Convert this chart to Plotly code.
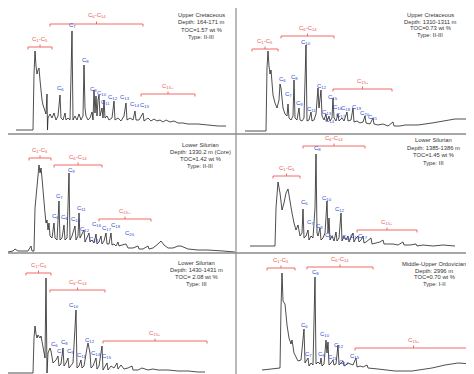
import plotly.graph_objects as go

# ---------------- data (x = retention position, y = detector signal) ----------------
A_trace = [(8,4),(25,4),(26,60),(27,83),(28,68),(29,60),(30,64),(31,66),(32,54),(33,41),(34,34),(35,29),(36,26),
           (37,22),(38,20),(39,40),(39.5,4),(40,16),(42,20),(44,16),(46,21),(48,14),(50,18),(52,39),(53,16),(55,14),
           (57,21),(58,14),(60,16),(62,14),(64,103),(65,14),(67,18),(69,14),(71,20),(73,14),(75,18),(76,69),(77,26),
           (78,18),(80,14),(82,16),(84,22),(85,14),(86,44),(87,21),(88,38),(89,18),(90,34),(91,39),(92,18),(94,26),
           (95,16),(96,34),(97,16),(99,18),(101,14),(104,16),(106,33),(107,14),(110,16),(113,13),(116,18),(118,31),
           (119,14),(122,16),(125,14),(127,23),(128,14),(131,14),(135,21),(136,13),(140,16),(143,13),(146,15),(149,13),
           (152,14),(155,12),(158,14),(162,12),(166,13),(170,11),(175,11),(180,10),(190,10),(200,9),(210,8),(218,8)]
B_trace = [(7,3),(28,3),(29,66),(30,83),(31,68),(32,60),(33,64),(34,51),(35,39),(37,31),(39,26),(41,34),(42,50),(43,46),
           (45,26),(47,20),(49,18),(50,30),(51,16),(53,14),(55,18),(56,54),(57,16),(59,14),(61,26),(62,14),(64,13),
           (66,16),(68,89),(69,13),(71,14),(73,22),(74,13),(76,14),(78,20),(80,46),(81,26),(83,44),(84,18),(86,14),
           (88,20),(89,13),(91,18),(92,13),(94,16),(95,36),(96,16),(98,13),(100,20),(101,13),(104,16),(106,13),(109,22),
           (110,13),(113,14),(115,26),(116,12),(119,13),(122,11),(125,12),(127,18),(128,11),(132,10),(135,16),(136,10),
           (140,9),(145,10),(150,8),(155,12),(156,8),(162,8),(167,9),(180,9),(194,11),(207,13),(217,15),(235,15)]
C_trace = [(0,2),(5,3),(7,5),(10,3),(20,3),(23,8),(24,3),(26,3),(27,46),(29,71),(31,89),(32,81),(33,86),(34,76),(35,61),
           (36,56),(37,41),(38,31),(39,34),(40,24),(41,31),(42,18),(44,16),(46,31),(47,16),(49,14),(51,53),(52,14),(54,16),
           (56,29),(57,14),(59,16),(61,81),(62,14),(64,18),(67,28),(68,14),(70,18),(71,41),(72,16),(74,21),(76,24),(77,12),
           (79,16),(81,21),(82,12),(84,14),(86,11),(88,20),(89,10),(91,12),(93,18),(94,10),(96,13),(98,21),(99,10),
           (101,10),(103,21),(104,9),(106,10),(108,8),(110,12),(111,8),(114,9),(118,10),(120,6),(125,6),(130,8),(131,5),
           (135,5),(140,8),(141,5),(145,6),(150,10),(153,13),(156,9),(160,6),(165,6),(170,8),(173,8),(176,7),(180,5),
           (190,4),(200,4),(215,3),(227,2)]
D_trace = [(12,8),(37,8),(38,46),(40,72),(42,61),(44,44),(46,51),(48,61),(50,65),(52,51),(54,41),(56,31),(58,24),(60,29),
           (62,18),(64,21),(65,45),(66,16),(68,18),(70,24),(71,14),(73,18),(75,16),(77,46),(78,100),(79,21),(80,18),
           (82,26),(83,14),(85,16),(87,21),(89,53),(90,21),(91,36),(92,14),(94,18),(96,13),(98,22),(99,13),(101,16),
           (103,41),(104,13),(106,18),(108,14),(110,18),(111,12),(113,16),(115,21),(116,12),(118,16),(120,18),(121,12),
           (123,14),(125,18),(126,11),(128,12),(133,16),(134,10),(138,11),(142,12),(145,14),(146,10),(150,10),(155,10),
           (160,9),(165,12),(166,9),(172,9),(178,10),(179,8),(185,9),(195,8),(205,9),(217,8)]
E_trace = [(0,9),(25,9),(26,44),(27,56),(28,48),(29,44),(30,47),(32,44),(33,46),(35,34),(37,24),(38,104),(39,9),(40,29),
           (42,34),(43,31),(45,19),(48,22),(50,26),(51,16),(53,18),(55,34),(56,16),(58,19),(60,24),(61,14),(63,16),
           (65,19),(68,72),(69,14),(71,16),(73,22),(74,14),(76,16),(79,34),(80,39),(81,34),(82,29),(83,14),(85,16),
           (88,24),(89,13),(91,16),(94,36),(95,12),(97,16),(99,19),(100,12),(103,16),(106,14),(109,19),(110,13),(113,17),
           (116,13),(120,14),(124,16),(125,12),(130,12),(134,14),(140,12),(145,13),(150,12),(160,12),(170,11),(180,11),
           (190,10),(197,10)]
F_trace = [(24,12),(42,14),(43,74),(44,109),(45,81),(47,78),(49,57),(51,44),(53,38),(54,42),(56,29),(58,24),(60,21),
           (63,22),(66,53),(67,19),(69,22),(70,24),(71,16),(73,19),(75,17),(77,105),(78,18),(80,20),(82,18),(83,24),
           (84,16),(86,18),(88,42),(89,29),(90,40),(91,17),(93,19),(95,22),(96,17),(98,18),(100,37),(101,17),(103,19),
           (105,21),(106,16),(108,17),(110,19),(115,17),(118,24),(119,15),(122,16),(125,15),(129,17),(130,14),(140,13),
           (157,11),(174,11),(194,14),(207,17),(220,19),(235,18)]

# peak labels: (carbon number, x, y)
A_peaks = [(6,52,46),(7,64,109),(8,77,74),(9,85,45),(10,94,41),(11,97,32),(12,105,37),(13,117,37),(14,127,30),(15,137,29)]
B_peaks = [(6,44,55),(7,50,40),(8,56,57),(9,61,31),(10,68,92),(11,73,25),(12,84,48),(13,89,22),(14,92,14),(15,95,37),
           (16,100,27),(17,103,19),(18,108,26),(19,119,27),(20,127,21),(21,135,17)]
C_peaks = [(6,47,38),(7,51,58),(8,56,37),(9,63,84),(10,68,35),(11,73,46),(12,77,25),(14,86,15),(16,89,30),(17,99,26),
           (18,108,29),(20,122,21)]
D_peaks = [(6,66,52),(7,72,32),(8,79,106),(9,81,28),(10,89,56),(11,91,19),(12,102,45),(14,109,17),(15,117,18),(17,125,18)]
E_peaks = [(6,46,38),(7,52,31),(8,56,40),(9,62,31),(10,66,77),(11,73,27),(12,82,42),(14,88,29),(15,99,26)]
F_peaks = [(6,66,57),(7,70,28),(8,77,110),(9,83,28),(10,87,48),(11,94,25),(12,101,37),(14,106,20),(15,117,26)]

# carbon-range brackets: (label, x start, x end, level)
A_ranges = [("C<sub>1</sub>-C<sub>5</sub>",20,44,87),("C<sub>6</sub>-C<sub>14</sub>",42,135,110),("C<sub>15+</sub>",133,187,40)]
B_ranges = [("C<sub>1</sub>-C<sub>5</sub>",14,40,85),("C<sub>6</sub>-C<sub>14</sub>",43,96,98),("C<sub>15+</sub>",95,154,45)]
C_ranges = [("C<sub>1</sub>-C<sub>5</sub>",21,43,96),("C<sub>6</sub>-C<sub>14</sub>",46,94,89),("C<sub>15+</sub>",91,143,35)]
D_ranges = [("C<sub>1</sub>-C<sub>5</sub>",35,62,78),("C<sub>6</sub>-C<sub>14</sub>",65,127,108),("C<sub>15+</sub>",119,179,24)]
E_ranges = [("C<sub>1</sub>-C<sub>5</sub>",18,43,109),("C<sub>6</sub>-C<sub>14</sub>",42,97,92),("C<sub>15+</sub>",95,199,41)]
F_ranges = [("C<sub>1</sub>-C<sub>5</sub>",29,57,114),("C<sub>6</sub>-C<sub>14</sub>",69,135,115),("C<sub>15+</sub>",117,234,34)]

A_info = ["Upper Cretaceous", "Depth: 164-171 m", "TOC=1.57 wt %", "Type: II-III"]
B_info = ["Upper Cretaceous", "Depth: 1310-1311 m", "TOC=0.73 wt %", "Type: II-III"]
C_info = ["Lower Silurian", "Depth: 1330.2 m (Core)", "TOC=1.42 wt %", "Type: II-III"]
D_info = ["Lower Silurian", "Depth: 1385-1386 m", "TOC=1.45 wt %", "Type: III"]
E_info = ["Lower Silurian", "Depth: 1430-1431 m", "TOC= 2.08 wt %", "Type: III"]
F_info = ["Middle-Upper Ordovician", "Depth: 2996 m", "TOC=0.70 wt %", "Type: I-II"]

# ---------------- layout ----------------
W, H = 474, 374
COL_SPLIT = 230
ROWS = [(0, 126), (126, 246), (246, 374)]  # pixel top/bottom of each row

panels = [
    (A_trace, A_peaks, A_ranges, A_info, 0, 0, (193, 119, 7.3)),
    (B_trace, B_peaks, B_ranges, B_info, 1, 0, (192, 119, 6.6)),
    (C_trace, C_peaks, C_ranges, C_info, 0, 1, (192, 109, 7.0)),
    (D_trace, D_peaks, D_ranges, D_info, 1, 1, (195, 114, 7.5)),
    (E_trace, E_peaks, E_ranges, E_info, 0, 2, (188, 119, 7.0)),
    (F_trace, F_peaks, F_ranges, F_info, 1, 2, (196, 118, 6.6)),
]

TRACE_COLOR = "#222222"
RED = "#ee5a55"
BLUE = "#3048d0"
FONT = "Liberation Sans, Arial, sans-serif"

fig = go.Figure()
layout = dict(width=W, height=H, margin=dict(l=0, r=0, t=0, b=0), paper_bgcolor="white",
              plot_bgcolor="white", showlegend=False, font=dict(family=FONT))
annotations = []

for i, (trace, peaks, ranges, info, col, row, infopos) in enumerate(panels):
    n = i + 1
    xa = "x" if n == 1 else f"x{n}"
    ya = "y" if n == 1 else f"y{n}"
    x0p = 0 if col == 0 else COL_SPLIT
    x1p = COL_SPLIT if col == 0 else W
    top, bot = ROWS[row]
    layout["xaxis" if n == 1 else f"xaxis{n}"] = dict(domain=[x0p / W, x1p / W], range=[0, x1p - x0p],
                                                       visible=False, fixedrange=True, anchor=ya)
    layout["yaxis" if n == 1 else f"yaxis{n}"] = dict(domain=[1 - bot / H, 1 - top / H], range=[0, bot - top],
                                                       visible=False, fixedrange=True, anchor=xa)
    xs = [p[0] for p in trace]
    ys = [p[1] for p in trace]
    fig.add_trace(go.Scatter(x=xs, y=ys, mode="lines", line=dict(color=TRACE_COLOR, width=0.8),
                             xaxis=xa, yaxis=ya, hoverinfo="skip"))
    # brackets
    bx, by = [], []
    for lab, a, b, lv in ranges:
        m = (a + b) / 2
        bx += [a, a, b, b, None, m, m, None]
        by += [lv - 2.5, lv, lv, lv - 2.5, None, lv, lv + 2.5, None]
        annotations.append(dict(x=m, y=lv + 2.5, xref=xa, yref=ya, text=lab, showarrow=False,
                                yanchor="bottom", font=dict(size=6, color=RED, family=FONT)))
    fig.add_trace(go.Scatter(x=bx, y=by, mode="lines", line=dict(color=RED, width=0.9),
                             xaxis=xa, yaxis=ya, hoverinfo="skip"))
    for c, px, py in peaks:
        annotations.append(dict(x=px, y=py, xref=xa, yref=ya, text=f"C<sub>{c}</sub>", showarrow=False,
                                font=dict(size=6, color=BLUE, family=FONT)))
    cx, cy, step = infopos
    for k, line in enumerate(info):
        annotations.append(dict(x=cx, y=cy - k * step, xref=xa, yref=ya, text=line, showarrow=False,
                                font=dict(size=5.8, color="#333", family=FONT)))

layout["annotations"] = annotations
GRID = "#8a8a8a"
layout["shapes"] = [
    dict(type="line", xref="paper", yref="paper", x0=228 / W, x1=228 / W, y0=0, y1=1, line=dict(color=GRID, width=1.2)),
    dict(type="line", xref="paper", yref="paper", x0=0, x1=1, y0=1 - 126 / H, y1=1 - 126 / H, line=dict(color=GRID, width=1.5)),
    dict(type="line", xref="paper", yref="paper", x0=0, x1=1, y0=1 - 245 / H, y1=1 - 245 / H, line=dict(color=GRID, width=1.5)),
    dict(type="line", xref="paper", yref="paper", x0=472 / W, x1=472 / W, y0=0, y1=1, line=dict(color=GRID, width=1.2)),
]
fig.update_layout(**layout)
fig.write_html("out.html")
